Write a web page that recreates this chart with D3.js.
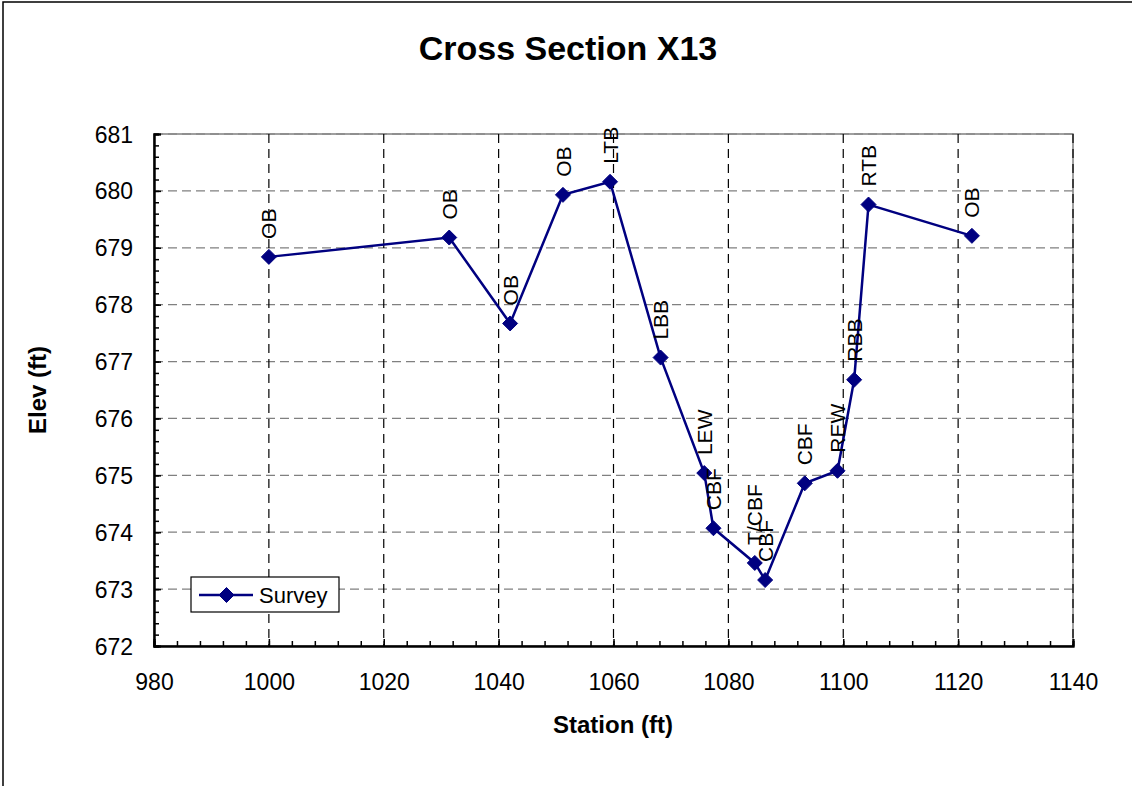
<!DOCTYPE html>
<html>
<head>
<meta charset="utf-8">
<script src="https://cdn.jsdelivr.net/npm/d3@7"></script>
<style>
  html, body { margin: 0; padding: 0; background: #fff; overflow: hidden; }
  svg { display: block; }
  text { font-family: "Liberation Sans", Arial, sans-serif; fill: #000; }
</style>
</head>
<body>
<svg id="chart" width="1132" height="786"></svg>
<script>
// ---- data ----
const stations = [1000, 1031.4, 1042.0, 1051.2, 1059.4, 1068.2, 1075.8, 1077.4, 1084.6, 1086.4, 1093.3, 1099.0, 1101.9, 1104.4, 1122.4];
const elevations = [678.84, 679.18, 677.67, 679.93, 680.16, 677.07, 675.04, 674.07, 673.46, 673.16, 674.86, 675.08, 676.68, 679.76, 679.21];
const pointCodes = ["OB", "OB", "OB", "OB", "LTB", "LBB", "LEW", "CBF", "T/CBF", "CBF", "CBF", "REW", "RBB", "RTB", "OB"];
const xTicks = [980, 1000, 1020, 1040, 1060, 1080, 1100, 1120, 1140];
const yTicks = [672, 673, 674, 675, 676, 677, 678, 679, 680, 681];
const seriesName = "Survey";
const chartTitle = "Cross Section X13";
const xTitle = "Station (ft)";
const yTitle = "Elev (ft)";

const points = stations.map((s, i) => ({ x: s, y: elevations[i], code: pointCodes[i] }));

// ---- layout ----
const svg = d3.select("#chart");
const L = 154, R = 1073, T = 134, B = 646;
const x = d3.scaleLinear().domain([980, 1140]).range([L, R]);
const y = d3.scaleLinear().domain([672, 681]).range([B, T]);
const navy = "#000080";

// outer chart frame (only left/top visible)
svg.append("path").attr("d", "M3,786V2H1132")
  .attr("fill", "none").attr("stroke", "#000").attr("stroke-width", 1.5);

// plot area border
svg.append("rect").attr("x", L).attr("y", T).attr("width", R - L).attr("height", B - T)
  .attr("fill", "#fff").attr("stroke", "#808080").attr("stroke-width", 1.5);

// gridlines
const grid = svg.append("g");
grid.selectAll("line.h").data(yTicks.filter(v => v > 672)).join("line")
  .attr("x1", L).attr("x2", R).attr("y1", d => y(d)).attr("y2", d => y(d))
  .attr("stroke", "#808080").attr("stroke-width", 1.2).attr("stroke-dasharray", "9,5");
grid.selectAll("line.v").data(xTicks.filter(v => v > 980)).join("line")
  .attr("y1", T).attr("y2", B).attr("x1", d => x(d)).attr("x2", d => x(d))
  .attr("stroke", "#000").attr("stroke-width", 1.2).attr("stroke-dasharray", "9,6");

// axes
const fs = 23;
const xAxis = svg.append("g").attr("transform", `translate(0,${B})`)
  .call(d3.axisBottom(x).tickValues(xTicks).tickSize(-7).tickPadding(28).tickFormat(d3.format("d")));
const xMinor = svg.append("g").attr("transform", `translate(0,${B})`)
  .call(d3.axisBottom(x).tickValues(d3.range(980, 1141, 4)).tickSize(-5).tickFormat(""));
const yAxis = svg.append("g").attr("transform", `translate(${L},0)`)
  .call(d3.axisLeft(y).tickValues(yTicks).tickSize(-7).tickPadding(21).tickFormat(d3.format("d")));
const yMinor = svg.append("g").attr("transform", `translate(${L},0)`)
  .call(d3.axisLeft(y).tickValues(d3.range(0, 46).map(i => 672 + i * 0.2)).tickSize(-5).tickFormat(""));
[xAxis, xMinor, yAxis, yMinor].forEach(g => {
  g.select(".domain").attr("stroke", "#000").attr("stroke-width", 2);
  g.selectAll(".tick line").attr("stroke", "#000").attr("stroke-width", 1.5);
  g.selectAll("text").attr("font-size", fs).attr("font-family", "Liberation Sans, Arial, sans-serif").attr("fill", "#000");
});
yAxis.selectAll("text").attr("dy", "0.35em");

// series line
svg.append("path").datum(points)
  .attr("d", d3.line().x(d => x(d.x)).y(d => y(d.y)))
  .attr("fill", "none").attr("stroke", navy).attr("stroke-width", 2.5).attr("stroke-linejoin", "miter");

// markers
const diamond = (cx, cy, r) => `M${cx},${cy - r}L${cx + r},${cy}L${cx},${cy + r}L${cx - r},${cy}Z`;
svg.append("g").selectAll("path").data(points).join("path")
  .attr("d", d => diamond(x(d.x), y(d.y), 7.5))
  .attr("fill", navy).attr("stroke", navy).attr("stroke-width", 1);

// data labels (rotated)
svg.append("g").selectAll("text").data(points).join("text")
  .attr("transform", d => `translate(${x(d.x)},${y(d.y) - 18}) rotate(-90)`)
  .attr("dy", "0.36em").attr("text-anchor", "start")
  .attr("font-size", 21)
  .text(d => d.code);

// title
svg.append("text").attr("x", 568).attr("y", 60).attr("text-anchor", "middle")
  .attr("font-size", 34).attr("font-weight", "bold").text(chartTitle);
svg.append("text").attr("x", 613).attr("y", 733).attr("text-anchor", "middle")
  .attr("font-size", 24).attr("font-weight", "bold").text(xTitle);
svg.append("text").attr("transform", "translate(46,390) rotate(-90)").attr("text-anchor", "middle")
  .attr("font-size", 24).attr("font-weight", "bold").text(yTitle);

// legend
const lg = svg.append("g");
lg.append("rect").attr("x", 191).attr("y", 577).attr("width", 148).attr("height", 35)
  .attr("fill", "#fff").attr("stroke", "#000").attr("stroke-width", 1.2);
lg.append("line").attr("x1", 199).attr("x2", 253).attr("y1", 595).attr("y2", 595)
  .attr("stroke", navy).attr("stroke-width", 2.5);
lg.append("path").attr("d", diamond(226.5, 595, 7.5)).attr("fill", navy).attr("stroke", navy);
lg.append("text").attr("x", 259).attr("y", 603).attr("font-size", 22).text(seriesName);
</script>
</body>
</html>
